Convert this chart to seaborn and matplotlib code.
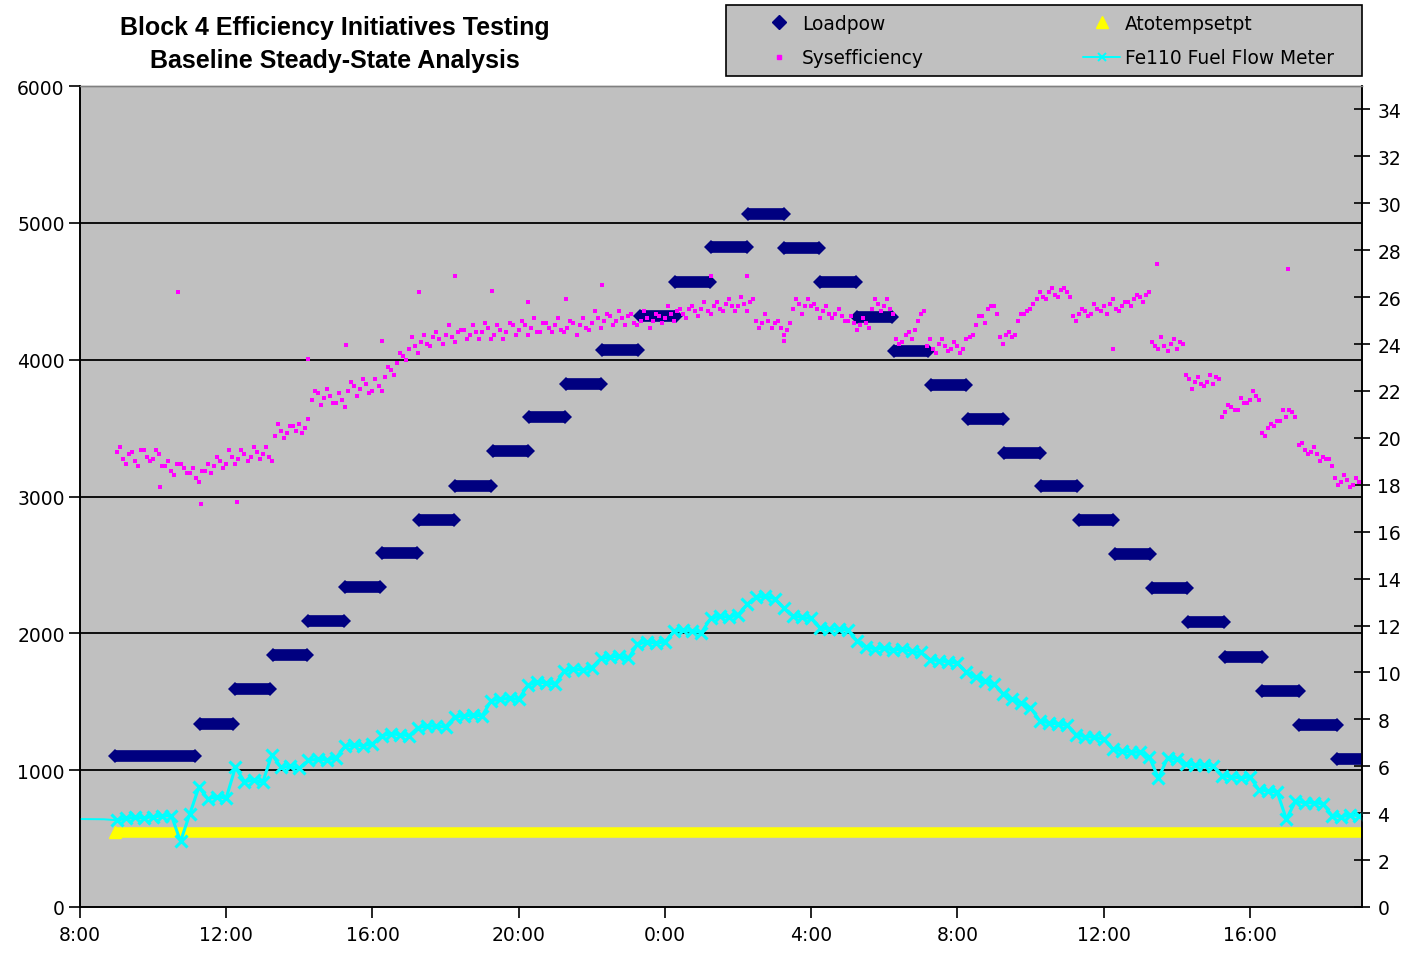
import numpy as np
import pandas as pd
import matplotlib
matplotlib.use("Agg")
import matplotlib.pyplot as plt
import seaborn as sns
from matplotlib.lines import Line2D
from matplotlib.patches import Rectangle

# ---------------- data (hours since 8:00 on day 1) ----------------
load_start = [0.96, 3.29, 4.25, 5.29, 6.25, 7.26, 8.27, 9.26, 10.27, 11.29, 12.27,
              13.29, 14.27, 15.32, 16.27, 17.26, 18.27, 19.26, 20.25, 21.26, 22.27,
              23.29, 24.30, 25.27, 26.30, 27.32, 28.30, 29.32, 30.30, 31.32, 32.33,
              33.34, 34.38]
load_end = [3.15, 4.19, 5.21, 6.22, 7.21, 8.22, 9.21, 10.22, 11.23, 12.25, 13.26,
            14.25, 15.26, 16.30, 17.23, 18.25, 19.26, 20.22, 21.23, 22.22, 23.21,
            24.25, 25.26, 26.25, 27.26, 28.27, 29.26, 30.27, 31.29, 32.33, 33.34,
            34.38, 35.30]
load_level = [1100, 1340, 1590, 1840, 2090, 2340, 2590, 2830, 3080, 3330, 3580,
              3820, 4070, 4320, 4570, 4820, 5065, 4815, 4565, 4310, 4065, 3815,
              3570, 3320, 3075, 2825, 2580, 2330, 2080, 1830, 1580, 1330, 1085]

atotemp_hours = [0.96, 35.30]
atotemp_values = [550, 550]

fuel_lead_hours = [0.0, 0.65]
fuel_lead_values = [3.75, 3.74]
fuel_first_hour = 1.0       # readings every 15 minutes from 9:00
fuel_values = [
    3.70, 3.78, 3.82, 3.80,  3.85, 3.88, 3.90, 2.80,  3.95, 5.10, 4.62, 4.70,
    4.65, 5.95, 5.35, 5.40,  5.32, 6.50, 5.95, 6.00,  5.92, 6.25, 6.30, 6.28,
    6.35, 6.85, 6.90, 6.88,  6.95, 7.30, 7.38, 7.35,  7.30, 7.65, 7.72, 7.70,
    7.68, 8.10, 8.15, 8.18,  8.15, 8.80, 8.85, 8.90,  8.85, 9.45, 9.60, 9.55,
    9.50, 10.05, 10.15, 10.10, 10.20, 10.60, 10.65, 10.70, 10.60, 11.20, 11.30, 11.25,
    11.30, 11.75, 11.80, 11.75, 11.70, 12.30, 12.40, 12.35, 12.45, 12.90, 13.20, 13.25,
    13.15, 12.75, 12.40, 12.35, 12.30, 11.90, 11.85, 11.85, 11.80, 11.35, 11.10, 11.00,
    11.05, 10.95, 11.00, 10.90, 10.85, 10.55, 10.50, 10.45, 10.40, 10.00, 9.80, 9.65,
    9.50, 9.10, 8.85, 8.70,  8.50, 7.95, 7.85, 7.80,  7.75, 7.35, 7.25, 7.25,
    7.15, 6.75, 6.65, 6.60,  6.60, 6.40, 5.50, 6.35,  6.30, 6.10, 6.05, 6.05,
    6.00, 5.60, 5.55, 5.50,  5.55, 5.00, 4.95, 4.90,  3.75, 4.50, 4.45, 4.45,
    4.40, 3.90, 3.85, 3.92,  3.90]

eff_first_hour = 1.0        # readings every 10 minutes from 9:00
eff_values = [
    19.4, 19.1, 19.3, 19.0, 19.5, 19.2,   # 9:00
    19.1, 19.3, 18.8, 18.6, 18.9, 18.7,   # 10:00
    18.5, 18.3, 18.6, 18.9, 18.8, 19.0,   # 11:00
    18.9, 19.2, 19.1, 19.3, 19.2, 19.4,   # 12:00
    19.3, 19.2, 20.1, 20.3, 20.2, 20.5,   # 13:00
    20.6, 20.4, 21.6, 21.9, 21.7, 21.8,   # 14:00
    21.5, 21.6, 22.0, 22.2, 22.1, 22.3,   # 15:00
    22.0, 22.2, 22.6, 22.9, 23.2, 23.5,   # 16:00
    23.8, 23.9, 24.1, 24.0, 24.3, 24.2,   # 17:00
    24.4, 24.3, 24.5, 24.6, 24.4, 24.5,   # 18:00
    24.5, 24.7, 24.4, 24.6, 24.5, 24.8,   # 19:00
    24.6, 24.8, 24.7, 24.5, 24.9, 24.7,   # 20:00
    24.8, 24.6, 24.7, 24.9, 24.8, 24.7,   # 21:00
    24.9, 25.1, 25.0, 25.2, 25.0, 25.1,   # 22:00
    25.2, 24.9, 25.0, 25.1, 25.0, 25.2,   # 23:00
    25.1, 25.3, 25.4, 25.3, 25.5, 25.4,   # 0:00
    25.5, 25.4, 25.6, 25.5, 25.7, 25.6,   # 1:00
    25.6, 25.7, 25.8, 25.0, 24.9, 25.0,   # 2:00
    24.9, 24.7, 24.6, 25.5, 25.7, 25.6,   # 3:00
    25.6, 25.5, 25.4, 25.3, 25.3, 25.2,   # 4:00
    25.0, 24.9, 24.8, 24.9, 25.5, 25.7,   # 5:00
    25.6, 25.5, 24.2, 24.1, 24.5, 24.6,   # 6:00
    25.3, 23.9, 23.8, 24.0, 23.9, 23.8,   # 7:00
    23.9, 23.8, 24.3, 24.8, 25.2, 25.5,   # 8:00
    25.6, 24.3, 24.4, 24.3, 25.0, 25.3,   # 9:00
    25.5, 25.9, 26.0, 26.2, 26.1, 26.3,   # 10:00
    26.2, 25.2, 25.3, 25.4, 25.3, 25.5,   # 11:00
    25.6, 25.7, 25.5, 25.6, 25.8, 25.9,   # 12:00
    26.0, 26.1, 24.1, 23.8, 23.9, 24.0,   # 13:00
    23.8, 24.0, 22.5, 22.4, 22.3, 22.4,   # 14:00
    22.3, 22.5, 21.1, 21.3, 21.2, 21.5,   # 15:00
    21.6, 21.8, 20.2, 20.4, 20.5, 20.7,   # 16:00
    20.9, 21.1, 19.7, 19.5, 19.4, 19.3,   # 17:00
    19.2, 19.1, 18.3, 18.1, 18.2, 18.0,   # 18:00
    18.1]                                 # 19:00
eff_first_hour_b = 1.0 + 5 / 60   # interleaved readings, 5 minutes later
eff_values_b = [
    19.6, 18.9, 19.4, 18.8, 19.5, 19.0,   # 9:05
    19.5, 18.8, 19.0, 18.4, 18.9, 18.5,   # 10:05
    18.7, 18.1, 18.6, 18.5, 19.2, 18.7,   # 11:05
    19.5, 18.9, 19.5, 19.0, 19.6, 19.1,   # 12:05
    19.6, 19.0, 20.6, 20.0, 20.5, 20.3,   # 13:05
    20.2, 20.8, 22.0, 21.4, 22.1, 21.5,   # 14:05
    21.9, 21.3, 22.4, 21.8, 22.5, 21.9,   # 15:05
    22.5, 22.0, 23.0, 22.7, 23.6, 23.3,   # 16:05
    24.3, 23.6, 24.4, 23.9, 24.5, 24.0,   # 17:05
    24.8, 24.1, 24.6, 24.2, 24.8, 24.2,   # 18:05
    24.9, 24.2, 24.8, 24.2, 24.9, 24.4,   # 19:05
    25.0, 24.4, 25.1, 24.5, 24.9, 24.5,   # 20:05
    25.1, 24.5, 25.0, 24.4, 25.1, 24.6,   # 21:05
    25.4, 24.7, 25.3, 24.8, 25.4, 24.8,   # 22:05
    25.3, 24.8, 25.4, 24.7, 25.3, 24.9,   # 23:05
    25.6, 25.0, 25.5, 25.1, 25.6, 25.2,   # 0:05
    25.8, 25.3, 25.8, 25.4, 25.9, 25.4,   # 1:05
    26.0, 25.4, 25.9, 24.7, 25.3, 24.7,   # 2:05
    25.0, 24.4, 24.9, 25.9, 25.3, 25.9,   # 3:05
    25.7, 25.1, 25.6, 25.1, 25.5, 25.0,   # 4:05
    25.2, 24.6, 25.1, 24.7, 25.9, 25.4,   # 5:05
    25.9, 25.3, 24.0, 24.4, 24.2, 25.0,   # 6:05
    25.4, 24.2, 23.6, 24.2, 23.7, 24.1,   # 7:05
    23.6, 24.2, 24.4, 25.2, 24.9, 25.6,   # 8:05
    25.3, 24.0, 24.5, 24.4, 25.3, 25.4,   # 9:05
    25.7, 26.2, 25.9, 26.4, 26.0, 26.4,   # 10:05
    26.0, 25.0, 25.5, 25.2, 25.7, 25.4,   # 11:05
    25.3, 25.9, 25.4, 25.8, 25.6, 26.1,   # 12:05
    25.8, 26.2, 23.9, 24.3, 23.7, 24.2,   # 13:05
    24.1, 22.7, 22.1, 22.6, 22.2, 22.7,   # 14:05
    22.6, 20.9, 21.4, 21.2, 21.7, 21.5,   # 15:05
    22.0, 21.6, 20.1, 20.6, 20.7, 21.2,   # 16:05
    21.2, 20.9, 19.8, 19.3, 19.6, 19.0,   # 17:05
    19.1, 18.8, 18.0, 18.4, 17.9, 18.3]   # 18:05
eff_outlier_hours = [2.68, 2.19, 3.30, 4.30, 6.24, 7.28, 8.26, 9.27, 10.26, 11.27,
                     12.25, 13.30, 14.28, 17.26, 18.25, 19.26, 28.26, 29.45, 33.04]
eff_outlier_values = [26.2, 17.9, 17.2, 17.25, 23.35, 23.95, 24.15, 26.2, 26.9, 26.25,
                      25.8, 25.9, 26.5, 26.9, 26.9, 24.15, 23.8, 27.4, 27.2]

xtick_hours = [0, 4, 8, 12, 16, 20, 24, 28, 32]
xtick_labels = ["8:00", "12:00", "16:00", "20:00", "0:00", "4:00", "8:00", "12:00", "16:00"]

title_lines = ["Block 4 Efficiency Initiatives Testing", "Baseline Steady-State Analysis"]
series_names = ["Loadpow", "Sysefficiency", "Atotempsetpt", "Fe110 Fuel Flow Meter"]

# ---------------- tables ----------------
load_df = pd.DataFrame({
    "hour": np.ravel(np.column_stack([load_start, load_end])),
    "value": np.repeat(load_level, 2),
    "step": np.repeat(np.arange(len(load_level)), 2),
})
fuel_df = pd.DataFrame({
    "hour": fuel_first_hour + np.arange(len(fuel_values)) * 0.25,
    "value": fuel_values,
})
fuel_lead_df = pd.DataFrame({
    "hour": fuel_lead_hours + [fuel_first_hour],
    "value": fuel_lead_values + [fuel_values[0]],
})
eff_df = pd.DataFrame({
    "hour": np.concatenate([eff_first_hour + np.arange(len(eff_values)) / 6.0,
                            eff_first_hour_b + np.arange(len(eff_values_b)) / 6.0,
                            eff_outlier_hours]),
    "value": np.concatenate([eff_values, eff_values_b, eff_outlier_values]),
})
ato_df = pd.DataFrame({"hour": atotemp_hours, "value": atotemp_values})

# ---------------- style ----------------
sns.set_theme(style="white")
plt.rcParams["font.family"] = ["DejaVu Sans"]
plt.rcParams["text.color"] = "black"

NAVY = "#000080"
MAGENTA = "#FF00FF"
YELLOW = "#FFFF00"
CYAN = "#00FFFF"
PLOTBG = "#C0C0C0"

fig = plt.figure(figsize=(14.06, 9.54), dpi=100, facecolor="white")
ax = fig.add_axes([80 / 1406, 1 - 908 / 954, (1362 - 80) / 1406, (908 - 87) / 954])
ax.set_facecolor(PLOTBG)

XMAX = 35.07
ax.set_xlim(0, XMAX)
ax.set_ylim(0, 6000)
ax.set_yticks(np.arange(0, 6001, 1000))
ax.set_xticks(xtick_hours)
ax.set_xticklabels(xtick_labels)
for yv in range(1000, 6000, 1000):
    ax.axhline(yv, color="black", lw=1.3, zorder=0.5)

# Atotempsetpt (yellow band) and Loadpow (navy steps) on left axis
sns.lineplot(data=ato_df, x="hour", y="value", ax=ax, color=YELLOW, lw=7.6,
             solid_capstyle="butt", legend=False, zorder=2)
ax.plot(ato_df["hour"].iloc[:1], ato_df["value"].iloc[:1], marker="^", ms=9,
        color=YELLOW, ls="none", zorder=2)
sns.lineplot(data=load_df, x="hour", y="value", units="step", estimator=None, ax=ax,
             color=NAVY, lw=8.4, solid_capstyle="butt", marker="D", ms=7.4,
             markeredgewidth=0, legend=False, zorder=3)

# Right axis: efficiency and fuel flow
ax2 = ax.twinx()
ax2.set_ylim(0, 35)
ax2.set_yticks(np.arange(0, 35, 2))
ax2.set_xlim(0, XMAX)

sns.lineplot(data=fuel_lead_df, x="hour", y="value", ax=ax2, color=CYAN, lw=1.4,
             legend=False, zorder=2)
sns.lineplot(data=fuel_df, x="hour", y="value", ax=ax2, color=CYAN, lw=2.2,
             marker="x", ms=8, markeredgewidth=2.2, markeredgecolor=CYAN,
             legend=False, zorder=2)
sns.scatterplot(data=eff_df, x="hour", y="value", ax=ax2, color=MAGENTA, marker="s",
                s=10, linewidth=0, legend=False, zorder=3)

for a in (ax, ax2):
    a.set_xlabel("")
    a.set_ylabel("")
    for side in ("left", "right", "bottom"):
        a.spines[side].set_color("black")
        a.spines[side].set_linewidth(1.2)
    a.spines["top"].set_color("#808080")
    a.spines["top"].set_linewidth(1.0)

ax.tick_params(axis="y", which="both", left=True, direction="out", length=8, width=1.2,
               labelsize=13.5, pad=3, colors="black")
ax.tick_params(axis="x", which="both", bottom=True, direction="out", length=8, width=1.2,
               labelsize=13.5, pad=5, colors="black")
ax2.tick_params(axis="y", which="both", right=True, direction="inout", length=12, width=1.2,
                labelsize=13.5, pad=5, colors="black")
ax2.tick_params(axis="x", bottom=False, labelbottom=False)

# Title
for line, ypix in zip(title_lines, (28, 61)):
    fig.text(335 / 1406, 1 - ypix / 954, line, ha="center", va="center",
             fontsize=18, fontweight="bold", color="black",
             family=["Liberation Sans", "DejaVu Sans"])

# Legend box and entries
fig.add_artist(Rectangle((726 / 1406, 1 - 77 / 954), 636 / 1406, 71 / 954,
                         transform=fig.transFigure, facecolor=PLOTBG,
                         edgecolor="black", lw=1.2, zorder=1))
handles = [
    Line2D([], [], color=NAVY, marker="D", ls="none", ms=7),
    Line2D([], [], color=MAGENTA, marker="s", ls="none", ms=2.6),
    Line2D([], [], color=YELLOW, marker="^", ls="none", ms=9),
    Line2D([], [], color=CYAN, marker="x", lw=1.4, ms=6, markeredgewidth=1.4),
]
leg = fig.legend(handles, series_names, ncol=2, loc="center", mode="expand",
                 bbox_to_anchor=(760 / 1406, 1 - 77 / 954, 574 / 1406, 71 / 954),
                 frameon=False, fontsize=13.4, handlelength=2.0, handletextpad=0.25,
                 borderpad=0, labelspacing=0.85, borderaxespad=0, labelcolor="black")
leg.set_zorder(5)

fig.savefig("out.png", dpi=100, facecolor="white")
